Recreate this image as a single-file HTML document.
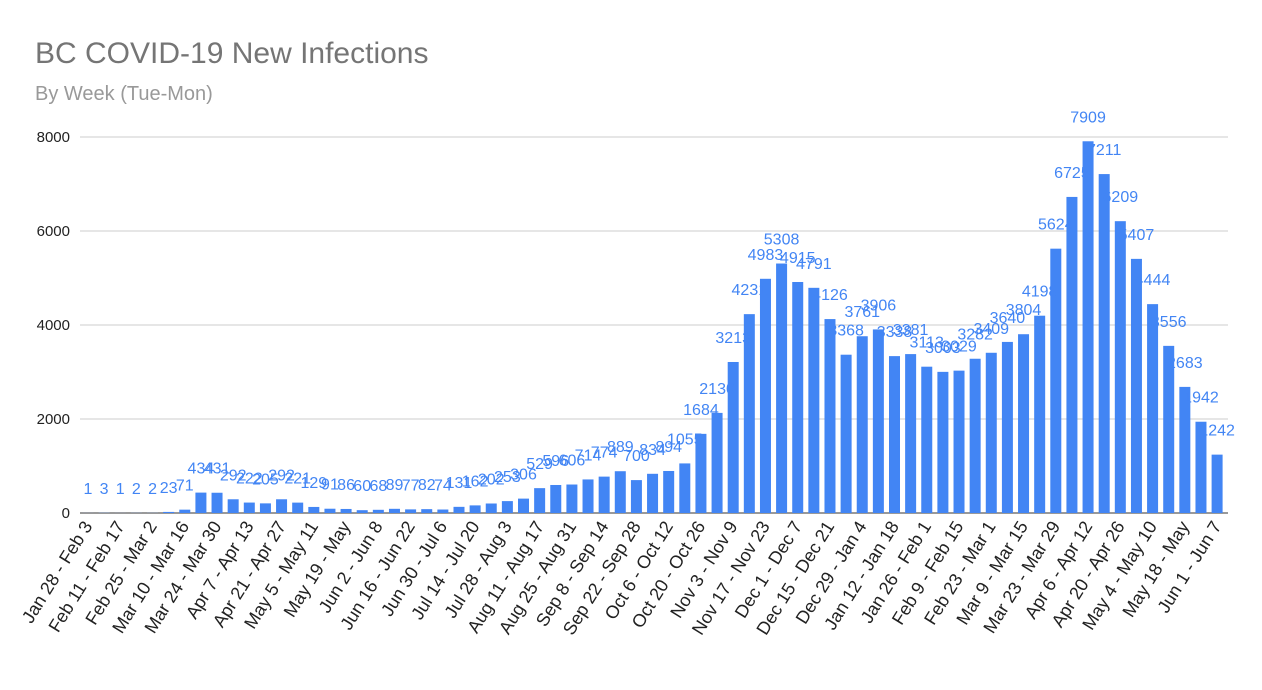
<!DOCTYPE html>
<html><head><meta charset="utf-8">
<style>
html,body{margin:0;padding:0;background:#fff;}
svg{display:block;font-family:"Liberation Sans",Arial,sans-serif;}
</style></head>
<body>
<svg id="c" width="1262" height="690" xmlns="http://www.w3.org/2000/svg">
<text x="35" y="63" font-size="30" fill="#757575">BC COVID-19 New Infections</text>
<text x="35" y="100" font-size="20" fill="#999999">By Week (Tue-Mon)</text>
<g id="grid"></g>
<g id="bars"></g>
<g id="labels"></g>
<g id="xl"></g>
</svg>
<script>
const vals=[1,3,1,2,2,23,71,434,431,292,222,205,292,221,129,91,86,60,68,89,77,82,74,131,162,202,253,306,529,596,606,714,774,889,700,834,894,1055,1684,2130,3213,4231,4983,5308,4915,4791,4126,3368,3761,3906,3338,3381,3113,3003,3029,3282,3409,3640,3804,4198,5624,6725,7909,7211,6209,5407,4444,3556,2683,1942,1242];
const ns="http://www.w3.org/2000/svg";
function el(p,t,a,txt){const e=document.createElementNS(ns,t);for(const k in a)e.setAttribute(k,a[k]);if(txt!==undefined)e.textContent=txt;document.getElementById(p).appendChild(e);}
const y0=513,k=0.047,x0=88,dx=16.13;
for(let v=0;v<=8000;v+=2000){const y=y0-v*k;
 el("grid","line",{x1:80,x2:1228,y1:y,y2:y,stroke:v?"#cccccc":"#333333","stroke-width":1});
 el("grid","text",{x:70,y:y+5,"text-anchor":"end","font-size":15,fill:"#222"},String(v));}
const mon=["Jan","Feb","Mar","Apr","May","Jun","Jul","Aug","Sep","Oct","Nov","Dec"];
const start=new Date(2020,0,28);
vals.forEach((v,i)=>{const cx=x0+i*dx,h=v*k;
 el("bars","rect",{x:cx-5.5,y:y0-h,width:11,height:h,fill:"#4285f4"});
 el("labels","text",{x:cx,y:y0-h-19,"text-anchor":"middle","font-size":16,fill:"#4285f4"},String(v));
 if(i%2==0){const a=new Date(start.getTime()+i*7*864e5),b=new Date(a.getTime()+6*864e5);
  let s=mon[a.getMonth()]+" "+a.getDate()+" - "+mon[b.getMonth()]+" "+b.getDate();
  if(s=="May 19 - May 25"||s=="May 18 - May 24")s=s.slice(0,12);
  el("xl","text",{x:0,y:0,"text-anchor":"end","font-size":18,fill:"#222",transform:`translate(${cx+5},${y0+13}) rotate(-58)`},s);}
});
</script>
</body></html>
